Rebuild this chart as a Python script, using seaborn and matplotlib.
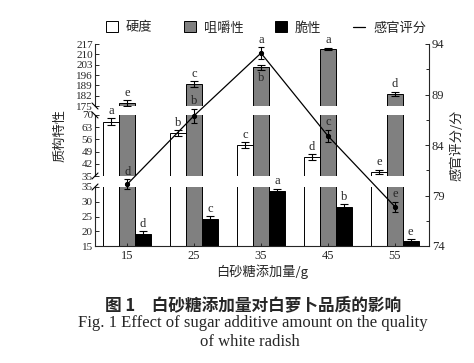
import numpy as np
import pandas as pd
import matplotlib
matplotlib.use("Agg")
import matplotlib.pyplot as plt
import seaborn as sns
from matplotlib.patches import Patch
from matplotlib.lines import Line2D
from matplotlib.font_manager import FontProperties

# ---------------- data ----------------
categories = ["15", "25", "35", "45", "55"]
series_names = ["硬度", "咀嚼性", "脆性"]
hardness = [66.0, 59.7, 52.8, 45.9, 37.3]
hardness_err = [2.0, 1.5, 1.5, 1.5, 1.3]
chewiness = [177.0, 190.0, 201.4, 213.6, 183.1]
chewiness_err = [2.0, 2.0, 1.7, 1.0, 1.5]
crispness = [18.9, 24.2, 33.6, 28.2, 16.7]
crispness_err = [1.2, 1.0, 0.8, 1.0, 0.6]
sensory_name = "感官评分"
sensory = [80.1, 86.9, 93.1, 84.9, 77.9]
sensory_err = [0.5, 0.7, 0.6, 0.6, 0.5]
hardness_sig = ["a", "b", "c", "d", "e"]
chewiness_sig = ["e", "c", "b", "a", "d"]
crispness_sig = ["d", "c", "a", "b", "e"]
sensory_sig = ["d", "b", "a", "c", "e"]
left_ticks_top = [175, 182, 189, 196, 203, 210, 217]
left_ticks_mid = [35, 42, 49, 56, 63, 70]
left_ticks_bot = [15, 20, 25, 30, 35]
right_ticks = [74, 79, 84, 89, 94]

bar_colors = ["white", "#808080", "black"]

df = pd.DataFrame({
    "cat": categories * 3,
    "series": [s for s in series_names for _ in categories],
    "value": hardness + chewiness + crispness,
})

sns.set_style("ticks")
plt.rcParams["font.family"] = ["Liberation Serif", "Noto Sans CJK SC"]
plt.rcParams["axes.linewidth"] = 0.8
plt.rcParams["xtick.direction"] = "in"
plt.rcParams["ytick.direction"] = "in"

W, H = 474, 363
fig = plt.figure(figsize=(W / 100, H / 100), dpi=100)
fig.patch.set_facecolor("white")

def rect(x0, y0, x1, y1):
    return [x0 / W, 1 - y1 / H, (x1 - x0) / W, (y1 - y0) / H]

XL, XR = 95, 429
sections = [
    (44, 106, (175, 217), left_ticks_top, 1, chewiness_err, chewiness_sig),
    (115, 176, (35, 70), left_ticks_mid, 0, hardness_err, hardness_sig),
    (187, 246, (15, 35), left_ticks_bot, 2, crispness_err, crispness_sig),
]
xlim = (-0.48, 4.51)
cjk = ["Noto Sans CJK SC", "Liberation Serif"]

for (yt, yb, ylim, ticks, si, errs, sig) in sections:
    ax = fig.add_axes(rect(XL, yt, XR, yb))
    ax.patch.set_visible(False)
    sns.barplot(data=df, x="cat", y="value", hue="series", hue_order=series_names,
                palette=bar_colors, saturation=1, width=0.71, errorbar=None,
                edgecolor="black", linewidth=0.7, legend=False, ax=ax)
    ax.set_xlim(*xlim)
    ax.set_ylim(*ylim)
    ax.set_yticks(ticks)
    ax.set_yticklabels([str(t) for t in ticks])
    ax.tick_params(axis="y", labelsize=8, length=3, width=0.7, pad=1.5)
    ax.set_xticks([])
    ax.set_xlabel("")
    ax.set_ylabel("")
    for s in ["top", "right", "bottom"]:
        ax.spines[s].set_visible(False)
    cont = ax.containers[si]
    for j, p in enumerate(cont.patches):
        x = p.get_x() + p.get_width() / 2
        y = p.get_height()
        ax.errorbar(x, y, yerr=errs[j], fmt="none", ecolor="black",
                    elinewidth=0.8, capsize=3, capthick=0.8, zorder=5)
        if si == 1 and j == 2:
            ax.annotate(sig[j], (x, y - errs[j]), xytext=(0, -2),
                        textcoords="offset points", ha="center", va="top",
                        fontsize=9)
        else:
            ax.annotate(sig[j], (x, y + errs[j]), xytext=(0, 1),
                        textcoords="offset points", ha="center", va="bottom",
                        fontsize=9)

# overlay axis for sensory score
axr = fig.add_axes(rect(XL, 44, XR, 246))
axr.patch.set_visible(False)
pos = np.arange(len(categories))
sns.lineplot(x=pos, y=sensory, ax=axr, color="black", linewidth=0.9,
             marker="o", markersize=3, markeredgecolor="black")
axr.errorbar(pos, sensory, yerr=sensory_err, fmt="none", ecolor="black",
             elinewidth=0.8, capsize=2, capthick=0.8, zorder=5)
for j in range(len(pos)):
    axr.annotate(sensory_sig[j], (pos[j], sensory[j] + sensory_err[j]),
                 xytext=(0, 1), textcoords="offset points", ha="center",
                 va="bottom", fontsize=9)
axr.set_xlim(*xlim)
axr.set_ylim(74, 94)
axr.yaxis.tick_right()
axr.yaxis.set_label_position("right")
axr.set_yticks(right_ticks)
axr.set_yticks([76.5, 81.5, 86.5, 91.5], minor=True)
axr.set_xticks(pos)
axr.set_xticklabels(categories)
axr.tick_params(axis="y", which="major", labelsize=9, length=3, width=0.7, pad=2)
axr.tick_params(axis="y", which="minor", length=2, width=0.7)
axr.tick_params(axis="x", labelsize=9, length=2, width=0.7, pad=3)
axr.spines["left"].set_visible(False)
axr.spines["top"].set_visible(False)
axr.set_xlabel("")
axr.set_ylabel("")

# break marks on left spine
def brk(xc, yc, sign):
    fig.add_artist(Line2D([(xc - 3) / W, (xc + 3) / W],
                          [1 - (yc - 3 * sign) / H, 1 - (yc + 3 * sign) / H],
                          color="black", lw=0.8))
brk(XL, 106, 1)
brk(XL, 115, 1)
brk(XL, 176, -1)
brk(XL, 187, -1)

# axis labels
fig.text(60 / W, 1 - 136 / H, "质构特性", rotation=90, ha="center", va="center",
         fontsize=9.5, family=cjk)
fig.text(457 / W, 1 - 145 / H, "感官评分/分", rotation=90, ha="center", va="center",
         fontsize=9.5, family=cjk)
fig.text(262 / W, 1 - 272 / H, "白砂糖添加量/g", ha="center", va="center",
         fontsize=9.5, family=cjk)

# legend
handles = [
    Patch(facecolor=bar_colors[0], edgecolor="black", linewidth=0.7),
    Patch(facecolor=bar_colors[1], edgecolor="black", linewidth=0.7),
    Patch(facecolor=bar_colors[2], edgecolor="black", linewidth=0.7),
    Line2D([0], [0], color="black", lw=0.9),
]
fig.legend(handles, series_names + [sensory_name], loc="center",
           bbox_to_anchor=(266 / W, 1 - 28 / H), ncol=4, frameon=False,
           handlelength=0.9, handleheight=0.9, columnspacing=2.4,
           handletextpad=0.6, prop=FontProperties(family=cjk, size=9.5))

# caption
fig.text(253 / W, 1 - 305 / H, "图 1　白砂糖添加量对白萝卜品质的影响", ha="center",
         va="center", fontsize=12, fontweight="bold", family=cjk)
fig.text(253 / W, 1 - 323 / H,
         "Fig. 1 Effect of sugar additive amount on the quality",
         ha="center", va="center", fontsize=12, family=["Liberation Serif"])
fig.text(250 / W, 1 - 342 / H, "of white radish", ha="center", va="center",
         fontsize=12, family=["Liberation Serif"])

fig.savefig("out.png", dpi=100, facecolor="white")
